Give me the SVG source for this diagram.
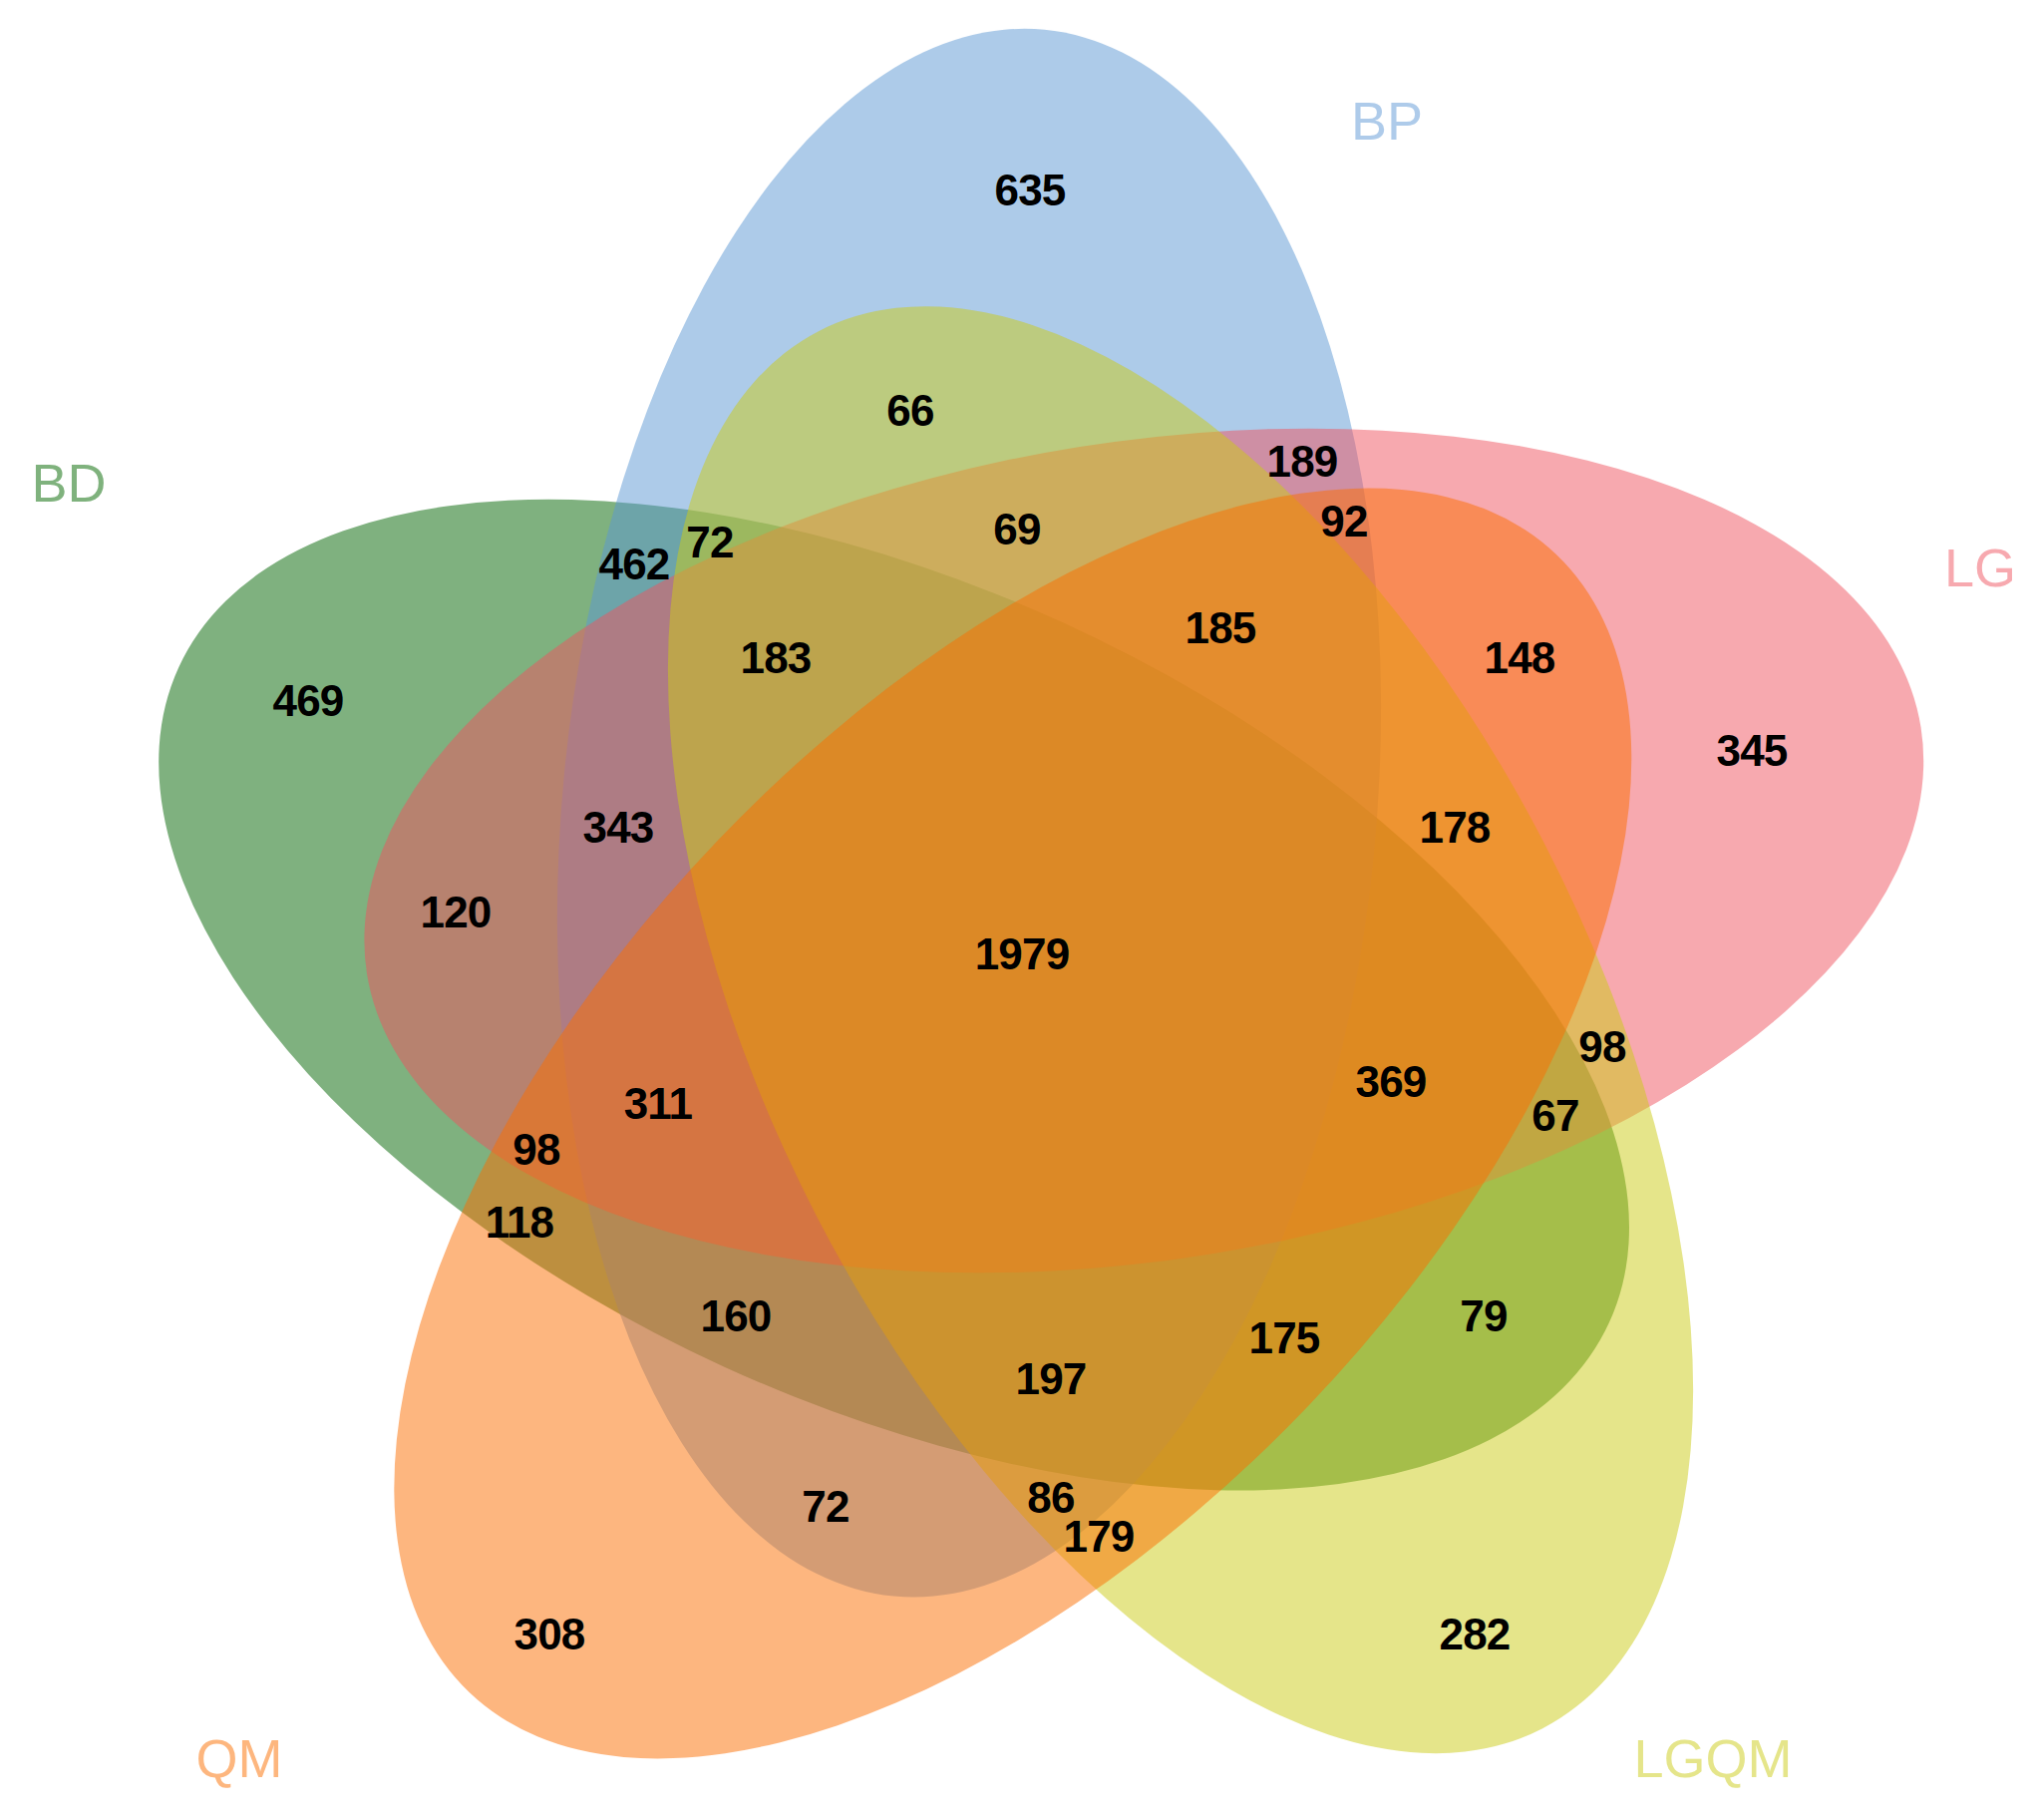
<svg xmlns="http://www.w3.org/2000/svg" width="2042" height="1825" viewBox="0 0 2042 1825">
<style>
.e{fill-opacity:0.5;stroke:none}
.n{font-family:"Liberation Sans",Arial,sans-serif;font-weight:bold;font-size:44px;letter-spacing:-0.8px;fill:#000;text-anchor:middle}
.l{font-family:"Liberation Sans",Arial,sans-serif;font-size:54px;text-anchor:middle}
</style>
<rect width="2042" height="1825" fill="#fff"/>
<g id="sets">
<g id="BD"><ellipse class="e" cx="896.6" cy="997.6" rx="789" ry="410" fill="#006400" transform="rotate(24.6 896.6 997.6)"/></g>
<g id="BP"><ellipse class="e" cx="972" cy="815.2" rx="789" ry="408" fill="#5B97D3" transform="rotate(-84.5 972 815.2)"/></g>
<g id="LG"><ellipse class="e" cx="1147.3" cy="853" rx="789" ry="410" fill="#EF535F" transform="rotate(-9 1147.3 853)"/></g>
<g id="LGQM"><ellipse class="e" cx="1184" cy="1032.7" rx="789" ry="410" fill="#CBCB15" transform="rotate(62.6 1184 1032.7)"/></g>
<g id="QM"><ellipse class="e" cx="1015.8" cy="1126.5" rx="789" ry="410" fill="#FB6D00" transform="rotate(-46.3 1015.8 1126.5)"/></g>
</g>
<g id="labels">
<text class="l" x="1391" y="140" fill="#AECBEA">BP</text>
<text class="l" x="69" y="503" fill="#7FB27D">BD</text>
<text class="l" x="1986" y="588" fill="#F7A9AF">LG</text>
<text class="l" x="240" y="1782" fill="#FDB67E">QM</text>
<text class="l" x="1718" y="1782" fill="#E5E58A">LGQM</text>
</g>
<g id="counts">
<text class="n" x="1033" y="206">635</text>
<text class="n" x="913" y="427">66</text>
<text class="n" x="1306" y="478">189</text>
<text class="n" x="1348" y="538">92</text>
<text class="n" x="1020" y="546">69</text>
<text class="n" x="636" y="581">462</text>
<text class="n" x="712" y="559">72</text>
<text class="n" x="1224" y="645">185</text>
<text class="n" x="778" y="675">183</text>
<text class="n" x="1524" y="675">148</text>
<text class="n" x="309" y="718">469</text>
<text class="n" x="1757" y="768">345</text>
<text class="n" x="620" y="845">343</text>
<text class="n" x="1459" y="845">178</text>
<text class="n" x="457" y="930">120</text>
<text class="n" x="1025" y="972">1979</text>
<text class="n" x="1395" y="1100">369</text>
<text class="n" x="1607" y="1065">98</text>
<text class="n" x="1560" y="1134">67</text>
<text class="n" x="660" y="1122">311</text>
<text class="n" x="538" y="1168">98</text>
<text class="n" x="521" y="1241">118</text>
<text class="n" x="738" y="1335">160</text>
<text class="n" x="1488" y="1335">79</text>
<text class="n" x="1288" y="1357">175</text>
<text class="n" x="1054" y="1398">197</text>
<text class="n" x="828" y="1526">72</text>
<text class="n" x="1054" y="1517">86</text>
<text class="n" x="1102" y="1556">179</text>
<text class="n" x="551" y="1654">308</text>
<text class="n" x="1479" y="1654">282</text>
</g>
</svg>
